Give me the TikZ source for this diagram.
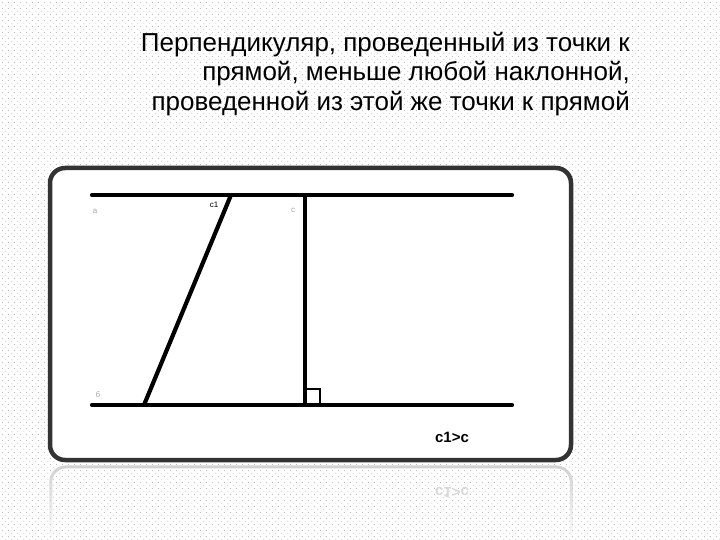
\documentclass[tikz,border=0pt]{standalone}
\usepackage{fontspec}
\setmainfont{Liberation Sans}
\usepackage{xcolor}
\usepackage{tikz}
\usetikzlibrary{calc}
\usetikzlibrary{positioning, backgrounds}
\usetikzlibrary{patterns.meta, fadings}
\definecolor{framegray}{HTML}{333333}
\tikzdeclarepattern{
	name=slidedots, type=uncolored,
	bounding box={(0,0) and (6pt,6pt)},
	tile size={(6pt,6pt)},
	code={\pgfpathcircle{\pgfpoint{1pt}{1pt}}{0.55pt}\pgfpathcircle{\pgfpoint{4pt}{4pt}}{0.55pt}\pgfusepath{fill}}
}
\tikzset{
	mainline/.style={line width=4.2pt, black},
	smalllab/.style={font=\fontsize{8}{9}\selectfont, text=gray!70, inner sep=0pt},
	bigtitle/.style={font=\fontsize{26}{29.5}\selectfont, align=right, inner sep=0pt}
}

\begin{document}
\begin{tikzpicture}[x=1pt, y=-1pt]
	\useasboundingbox (0,0) rectangle (720,540);
	\fill[white] (0,0) rectangle (720,540);
	\fill[pattern=slidedots, pattern color=gray!70] (0,0) rectangle (720,540);

		% title
		\node[bigtitle, anchor=north east] (title) at (630,32) {Перпендикуляр, проведенный из точки к\\прямой, меньше любой наклонной,\\проведенной из этой же точки к прямой};

		% reflection under the frame
		\draw[gray!35, line width=3pt, rounded corners=15pt, path fading=south] (51,540) |- (572,467) -- (572,540);
		\node[font=\bfseries\fontsize{15}{16}\selectfont, text=gray!30, yscale=-1] (mirror) at (452,493) {c1>c};

		% frame
		\draw[framegray, fill=white, line width=4.5pt, rounded corners=15pt] (50,168) rectangle (571,460);

		\coordinate (a1) at (92,195);
		\coordinate (a2) at (512,195);
		\coordinate (b1) at (92,405);
		\coordinate (b2) at (512,405);
		\coordinate (c1top) at (231,195);
		\coordinate (c1bot) at (144,405);
		\coordinate (ctop) at (305,195);
		\coordinate (cbot) at (305,405);

		\draw[mainline, line cap=round] (a1) -- (a2);
		\draw[mainline, line cap=round] (b1) -- (b2);
		\draw[mainline] (c1top) -- (c1bot);
		\draw[mainline] (ctop) -- (cbot);
		\draw[line width=1.4pt] ([yshift=16pt]cbot) -| ([xshift=15pt]cbot);

		\node[smalllab] (la) at (95,211) {а};
		\node[smalllab, text=black] (lc1) at (214,205) {с1};
		\node[smalllab] (lc) at (293,210) {с};
		\node[smalllab] (lb) at (98,395) {б};

		\node[font=\bfseries\fontsize{15}{16}\selectfont] (ineq) at (452,437) {c1>c};
	\end{tikzpicture}
\end{document}
